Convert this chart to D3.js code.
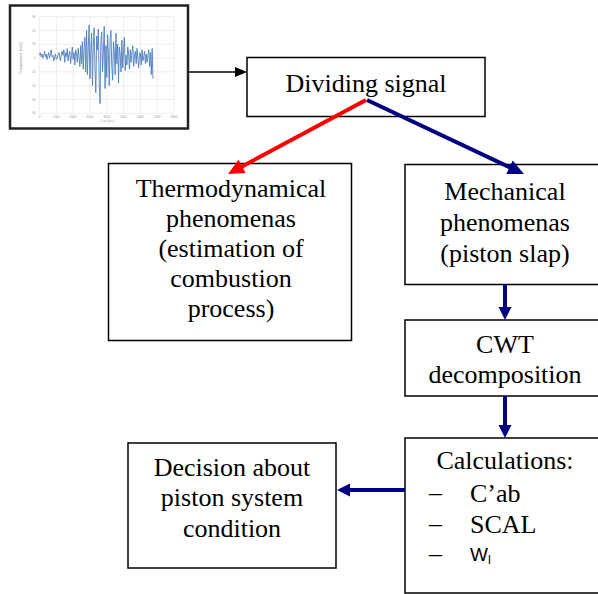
<!DOCTYPE html>
<html><head><meta charset="utf-8">
<script src="https://cdn.jsdelivr.net/npm/d3@7"></script>
<style>
html,body{margin:0;padding:0;background:#fff;}
svg{display:block;}
</style></head>
<body>
<script>
// ---- data ----
const signalStep = 50;
const signalValues = [2,4,1,3,0,2,5,1,3,-1,2,4,0,3,6,1,2,-2,1,3,-1,0,2,4,1,-2,3,5,
 2,6,-3,4,1,7,-2,3,5,-4,2,8,-1,4,-5,6,3,-3,7,1,
 -6,9,-4,12,-8,6,15,-10,
 20,-12,8,24,-15,5,18,-20,10,22,-8,-25,16,6,21,-18,-33,12,19,-10,4,23,-22,9,
 -14,17,2,-20,14,20,-6,-16,12,5,-12,18,-4,10,-18,8,3,-10,13,-7,6,15,-9,2,
 -5,8,3,-8,6,-3,4,9,-6,2,5,-4,7,0,-7,4,3,-5,6,-2,1,5,-4,3,-3,2,6,-6,4,-12,7,-15];
const xTicks = [0,1000,2000,3000,4000,5000,6000,7000,8000];
const yTicks = [30,20,10,0,-10,-20,-30,-40];
const thermoLines = ["Thermodynamical","phenomenas","(estimation of","combustion","process)"];
const mechLines = ["Mechanical","phenomenas","(piston slap)"];
const cwtLines = ["CWT","decomposition"];
const decisionLines = ["Decision about","piston system","condition"];
const calcTitle = "Calculations:";
const calcItems = ["C’ab","SCAL"];

const W = 598, H = 594;
const SERIF = "'Liberation Serif', 'Times New Roman', serif";
const SANS = "'Liberation Sans', Arial, sans-serif";
const svg = d3.select("body").append("svg").attr("width", W).attr("height", H);

// ---- thumbnail signal chart ----
const th = svg.append("g");
th.append("rect").attr("x",10).attr("y",5.5).attr("width",178).attr("height",123)
  .attr("fill","#fff").attr("stroke","#222").attr("stroke-width",2.5);
const x = d3.scaleLinear().domain([0,8000]).range([39.5,174]);
const y = d3.scaleLinear().domain([-40,30]).range([113.3,16.7]);
th.append("g").selectAll("line").data(xTicks).join("line")
  .attr("x1",d=>x(d)).attr("x2",d=>x(d)).attr("y1",y(30)).attr("y2",y(-40))
  .attr("stroke","#e2e2e2").attr("stroke-width",0.6);
th.append("g").selectAll("line").data(yTicks).join("line")
  .attr("x1",x(0)).attr("x2",x(8000)).attr("y1",d=>y(d)).attr("y2",d=>y(d))
  .attr("stroke","#e2e2e2").attr("stroke-width",0.6);
th.append("g").selectAll("text").data(xTicks).join("text")
  .attr("x",d=>x(d)).attr("y",117.5).attr("text-anchor","middle")
  .style("font-size","3px").style("font-family",SANS).attr("fill","#999").text(d=>d);
th.append("g").selectAll("text").data(yTicks).join("text")
  .attr("x",x(0)-4).attr("y",d=>y(d)+1).attr("text-anchor","end")
  .style("font-size","3px").style("font-family",SANS).attr("fill","#999").text(d=>d);
th.append("text").attr("transform",`translate(22,${y(0)}) rotate(-90)`).attr("text-anchor","middle")
  .style("font-size","3.2px").style("font-family",SANS).attr("fill","#888").text("Przyspieszenie [m/s2]");
th.append("text").attr("x",107).attr("y",122).attr("text-anchor","middle")
  .style("font-size","3px").style("font-family",SANS).attr("fill","#aaa").text("Czas [ms]");
const line = d3.line().x((d,i)=>x(i*signalStep)).y(d=>y(d));
th.append("path").datum(signalValues).attr("d",line).attr("fill","none")
  .attr("stroke","#4f7fbf").attr("stroke-width",0.9).attr("stroke-linejoin","round");

// ---- boxes ----
function box(x0,y0,w,h){
  svg.append("rect").attr("x",x0).attr("y",y0).attr("width",w).attr("height",h)
    .attr("fill","#fff").attr("stroke","#000").attr("stroke-width",1.5);
}
function serifText(sel){
  return sel.style("font-family",SERIF).style("font-size","26px").attr("fill","#000");
}
function lines(arr,cx,y0,dy){
  const g = svg.append("g");
  arr.forEach((d,i)=>{
    serifText(g.append("text")).attr("x",cx).attr("y",y0+i*dy).attr("text-anchor","middle").text(d);
  });
}
box(247,57.5,238,59); lines(["Dividing signal"],366,91.5,30);
box(108.5,163.5,243,177); lines(thermoLines,231,196.5,30);
box(405,164.5,200,120); lines(mechLines,505,200,30.8);
box(405,320,200,76); lines(cwtLines,505,353,29.5);
box(128,443,208,125); lines(decisionLines,232,476,30.3);
box(405,438,200,155);
lines([calcTitle],505,469,30);
const cg = svg.append("g");
calcItems.forEach((d,i)=>{
  serifText(cg.append("text")).attr("x",470).attr("y",502+i*30.5).text(d);
});
[0,1,2].forEach(i=>{
  serifText(cg.append("text")).attr("x",429).attr("y",501+i*30.5).text("–");
});
const wl = svg.append("text").attr("x",470).attr("y",561)
  .style("font-family",SANS).style("font-size","19px").attr("fill","#000");
wl.append("tspan").text("W");
wl.append("tspan").style("font-size","13px").attr("dy",3).text("l");

// ---- arrows ----
function arrow(x1,y1,x2,y2,color,sw,hl,hw){
  const a = Math.atan2(y2-y1,x2-x1);
  const bx = x2 - hl*Math.cos(a), by = y2 - hl*Math.sin(a);
  svg.append("line").attr("x1",x1).attr("y1",y1).attr("x2",bx+Math.cos(a)).attr("y2",by+Math.sin(a))
    .attr("stroke",color).attr("stroke-width",sw);
  const px = -Math.sin(a)*hw/2, py = Math.cos(a)*hw/2;
  svg.append("polygon").attr("points",`${x2},${y2} ${bx+px},${by+py} ${bx-px},${by-py}`).attr("fill",color);
}
arrow(188,72,247,72,"#000",1.5,12,10);
arrow(366,100,228,174,"#ff0000",4,16,15);
arrow(367,100,524,174,"#000080",4,16,15);
arrow(505,284,505,320,"#000080",4,13,13);
arrow(505,396,505,438,"#000080",4,13,13);
arrow(405,490,337,490,"#000080",4,13,13);
</script>
</body></html>
